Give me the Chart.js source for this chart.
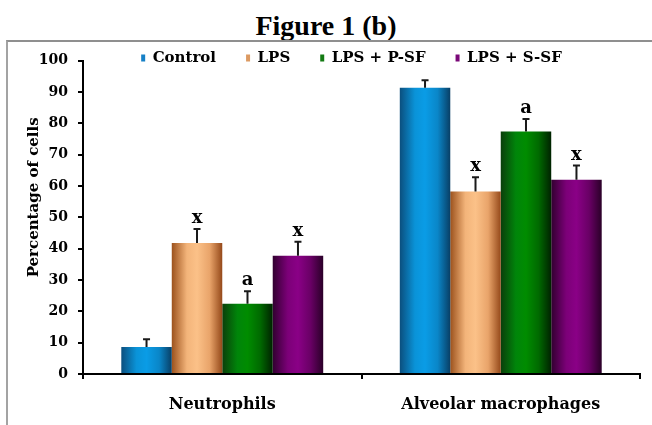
<!DOCTYPE html>
<html>
<head>
<meta charset="utf-8">
<script src="https://cdn.jsdelivr.net/npm/chart.js@4.4.1/dist/chart.umd.min.js"></script>
<style>
  html, body { margin: 0; padding: 0; background: #fff; width: 652px; height: 425px; overflow: hidden; }
  #wrap { position: relative; width: 652px; height: 425px; overflow: hidden; }
  #heading { position: absolute; left: 0; top: 12px; width: 652px; text-align: center;
             font: bold 28px "Liberation Serif", "Times New Roman", serif; line-height: 28px; color: #000; }
  #frame { position: absolute; left: 6px; top: 40px; width: 660px; height: 400px;
           border-top: 2px solid #8f8f8f; border-left: 2px solid #a3a3a3; }
  #chart { position: absolute; left: 0; top: 0; }
</style>
</head>
<body>
<div id="wrap">
  <div id="heading">Figure 1 (b)</div>
  <div id="frame"></div>
  <canvas id="chart" width="678" height="425"></canvas>
</div>
<script>
// Cell populations and treatment groups
const categories = ['Neutrophils', 'Alveolar macrophages'];
const seriesNames = ['Control', 'LPS', 'LPS + P-SF', 'LPS + S-SF'];

// Mean percentage of cells per group
const control = [8.6, 91.3];
const lps     = [41.8, 58.2];
const lpsPSF  = [22.4, 77.4];
const lpsSSF  = [37.7, 62.0];

// Standard error (upper whisker only)
const controlErr = [2.5, 2.4];
const lpsErr     = [4.5, 4.6];
const lpsPSFErr  = [4.0, 4.0];
const lpsSSFErr  = [4.5, 4.5];

// Significance letters above each bar
const controlSig = ['', ''];
const lpsSig     = ['x', 'x'];
const lpsPSFSig  = ['a', 'a'];
const lpsSSFSig  = ['x', 'x'];

// Y axis
const yTitle = 'Percentage of cells';
const yMin = 0, yMax = 100, yStep = 10;

const seriesValues = [control, lps, lpsPSF, lpsSSF];
const seriesErrors = [controlErr, lpsErr, lpsPSFErr, lpsSSFErr];
const seriesSig = [controlSig, lpsSig, lpsPSFSig, lpsSSFSig];

const CATEGORY_PCT = 0.725;

// Cylinder-style shading for each series: [offset, colour]
const shading = [
  [[0, '#0b4f7e'], [0.3, '#0a93d8'], [0.5, '#0a9ce6'], [0.75, '#0a86c8'], [1, '#083f66']],
  [[0, '#9c521d'], [0.3, '#f3b47a'], [0.5, '#fbc188'], [0.75, '#e9a46a'], [1, '#95491a']],
  [[0, '#0b3f0b'], [0.3, '#00850a'], [0.5, '#008c00'], [0.75, '#006a00'], [1, '#002200']],
  [[0, '#320030'], [0.3, '#7c0078'], [0.5, '#8a0086'], [0.75, '#690065'], [1, '#2a0028']]
];
const legendColours = ['#1680c6', '#dc9a62', '#137a13', '#7a0878'];

function barFill(ctx) {
  const chart = ctx.chart;
  const xs = chart.scales && chart.scales.x;
  const di = ctx.datasetIndex;
  if (ctx.dataIndex === undefined || !xs || !xs.width) return legendColours[di];
  const catW = xs.width / categories.length;
  const groupW = catW * CATEGORY_PCT;
  const barW = groupW / seriesNames.length;
  const left = xs.getPixelForValue(ctx.dataIndex) - groupW / 2 + di * barW;
  const g = chart.ctx.createLinearGradient(left, 0, left + barW, 0);
  shading[di].forEach(([o, c]) => g.addColorStop(o, c));
  return g;
}

// The legend row sits just above the top of the plot and overhangs it a little
const legendOverhang = {
  id: 'legendOverhang',
  afterLayout(chart) {
    const l = chart.legend;
    if (l) { l.bottom = l.top + 60; }
  }
};

// Upper error whiskers, significance letters and the rotated y-axis title
const annotations = {
  id: 'annotations',
  afterDatasetsDraw(chart) {
    const { ctx } = chart;
    const y = chart.scales.y;
    ctx.save();
    chart.data.datasets.forEach((ds, di) => {
      const meta = chart.getDatasetMeta(di);
      meta.data.forEach((bar, i) => {
        const v = ds.data[i];
        const yTop = y.getPixelForValue(v + seriesErrors[di][i]);
        const yBar = y.getPixelForValue(v);
        ctx.strokeStyle = '#1a1a1a';
        ctx.lineWidth = 2;
        ctx.beginPath();
        ctx.moveTo(bar.x, yBar);
        ctx.lineTo(bar.x, yTop);
        ctx.moveTo(bar.x - 3.5, yTop);
        ctx.lineTo(bar.x + 3.5, yTop);
        ctx.stroke();
        const mark = seriesSig[di][i];
        if (mark) {
          ctx.font = 'bold 18px "DejaVu Serif", serif';
          ctx.textAlign = 'center';
          ctx.textBaseline = 'alphabetic';
          ctx.fillStyle = '#000';
          ctx.fillText(mark, bar.x, yTop - 6);
        }
      });
    });
    ctx.translate(y.left + 9, (y.top + y.bottom) / 2 - 20);
    ctx.rotate(-Math.PI / 2);
    ctx.font = 'bold 15px "DejaVu Serif", serif';
    ctx.textAlign = 'center';
    ctx.textBaseline = 'middle';
    ctx.fillStyle = '#000';
    ctx.fillText(yTitle, 0, 0);
    ctx.restore();
  }
};

Chart.defaults.font.family = '"DejaVu Serif", serif';
Chart.defaults.font.weight = 'bold';
Chart.defaults.color = '#000';

new Chart(document.getElementById('chart'), {
  type: 'bar',
  data: {
    labels: categories,
    datasets: seriesNames.map((name, i) => ({
      label: name,
      data: seriesValues[i],
      backgroundColor: barFill,
      borderWidth: 0,
      categoryPercentage: CATEGORY_PCT,
      barPercentage: 1
    }))
  },
  options: {
    responsive: false,
    animation: false,
    devicePixelRatio: 1,
    layout: { padding: { left: 25, top: 20.6, right: 0, bottom: 0 } },
    plugins: {
      legend: {
        position: 'top',
        maxHeight: 40,
        labels: {
          boxWidth: 4,
          boxHeight: 7,
          padding: 30,
          color: '#000',
          font: { size: 15, weight: 'bold' },
          generateLabels(chart) {
            return Chart.defaults.plugins.legend.labels.generateLabels(chart).map((item, i) => {
              item.fillStyle = legendColours[i];
              item.lineWidth = 0;
              return item;
            });
          }
        }
      },
      tooltip: { enabled: false }
    },
    scales: {
      x: {
        offset: true,
        grid: { display: true, offset: true, drawOnChartArea: false, drawTicks: true, tickLength: 5, color: '#000', lineWidth: 2 },
        border: { display: true, color: '#000', width: 2, z: 1 },
        ticks: { padding: 16, font: { size: 16 } },
        afterFit(s) { s.height = 51; }
      },
      y: {
        min: yMin,
        max: yMax,
        ticks: { stepSize: yStep, padding: 10, font: { size: 14 } },
        grid: { drawOnChartArea: false, drawTicks: true, tickLength: 5, color: '#000', lineWidth: 2 },
        border: { display: true, color: '#000', width: 2, z: 1 },
        afterFit(s) { s.width = 58; }
      },
      // hidden spacer on the right so the legend sits centred over the framed area
      y2: {
        type: 'linear',
        position: 'right',
        display: false,
        afterFit(s) { s.width = 38; }
      }
    }
  },
  plugins: [legendOverhang, annotations]
});
</script>
</body>
</html>
